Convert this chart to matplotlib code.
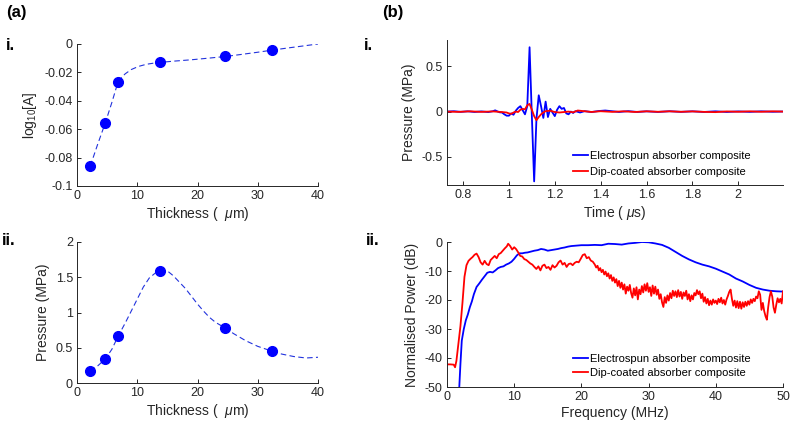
import matplotlib
matplotlib.use("Agg")
import matplotlib.pyplot as plt

plt.rcParams['font.family'] = ['Liberation Sans', 'DejaVu Sans']
plt.rcParams['mathtext.fontset'] = 'custom'
plt.rcParams['mathtext.rm'] = 'Liberation Sans'
plt.rcParams['mathtext.it'] = 'Liberation Sans:italic'

# ---------------- data ----------------
thickness = [2.2, 4.7, 6.8, 13.7, 24.6, 32.4]
log_abs = [-0.086, -0.0555, -0.0268, -0.013, -0.0088, -0.0043]
pressure_pts = [0.17, 0.34, 0.66, 1.59, 0.78, 0.45]

fit_a_x = [2.2, 3.4, 4.7, 5.8, 6.8, 7.4, 8.0, 9.0, 10.2, 11.5, 12.7, 13.7, 16, 19, 22,
           24.6, 27, 30, 32.4, 35, 37.5, 40]
fit_a_y = [-0.086, -0.071, -0.0555, -0.041, -0.0268, -0.0235, -0.021, -0.018, -0.0158,
           -0.0143, -0.0135, -0.013, -0.0121, -0.0111, -0.0099, -0.0088, -0.0075,
           -0.0058, -0.0043, -0.0028, -0.0014, 0.0]

fit_p_x = [2.2, 3.4, 4.7, 5.8, 6.8, 8.0, 9.0, 10.0, 11.0, 12.0, 13.0, 14.0, 15.0, 16.0,
           17.0, 18.0, 19.0, 20.0, 21.0, 22.0, 23.0, 24.6, 26, 28, 30, 32.4, 34, 36, 38, 40]
fit_p_y = [0.17, 0.24, 0.34, 0.48, 0.66, 0.85, 1.02, 1.19, 1.36, 1.49, 1.56, 1.595, 1.59,
           1.52, 1.43, 1.34, 1.23, 1.12, 1.02, 0.93, 0.86, 0.78, 0.70, 0.60, 0.52, 0.45,
           0.41, 0.375, 0.355, 0.365]

t_blue = [0.73, 0.76, 0.79, 0.82, 0.85, 0.88, 0.91, 0.93, 0.94, 0.95, 0.96, 0.97, 0.98,
          0.99, 1.00, 1.01, 1.02, 1.03, 1.04, 1.05, 1.06, 1.07, 1.08, 1.09, 1.10, 1.11,
          1.12, 1.13, 1.14, 1.15, 1.16, 1.17, 1.18, 1.19, 1.20, 1.21, 1.22, 1.23, 1.24,
          1.25, 1.26, 1.27, 1.28, 1.29, 1.31, 1.33, 1.36, 1.39, 1.42, 1.45, 1.48, 1.52,
          1.56, 1.60, 1.65, 1.70, 1.75, 1.80, 1.85, 1.90, 1.95, 2.00, 2.05, 2.10, 2.15,
          2.195]
p_blue = [0.0, 0.004, -0.003, 0.003, -0.004, 0.002, -0.005, 0.004, 0.014, 0.002, -0.008,
          -0.01, -0.03, -0.045, -0.045, -0.02, -0.035, 0.01, 0.04, 0.06, 0.015, -0.03,
          0.06, 0.71, -0.05, -0.77, -0.08, 0.18, 0.06, -0.07, 0.11, -0.06, 0.03, -0.01,
          -0.05, 0.02, 0.06, 0.03, 0.04, -0.02, -0.03, 0.0, -0.015, 0.005, -0.01, 0.005,
          -0.005, 0.006, 0.012, 0.004, -0.004, 0.005, -0.004, 0.003, -0.004, 0.004,
          -0.003, 0.003, -0.004, 0.003, -0.004, 0.002, -0.003, 0.003, -0.002, 0.001]

t_red = [0.73, 0.78, 0.83, 0.88, 0.93, 0.97, 0.99, 1.00, 1.01, 1.02, 1.03, 1.04, 1.05,
         1.06, 1.07, 1.08, 1.09, 1.10, 1.11, 1.12, 1.13, 1.14, 1.15, 1.16, 1.18, 1.20,
         1.22, 1.24, 1.26, 1.28, 1.30, 1.33, 1.36, 1.40, 1.45, 1.50, 1.55, 1.60, 1.65,
         1.70, 1.75, 1.80, 1.85, 1.90, 1.95, 2.00, 2.05, 2.10, 2.15, 2.195]
p_red = [0.0, -0.003, 0.003, -0.003, 0.002, -0.005, -0.01, -0.02, -0.025, -0.01, 0.0,
         -0.005, 0.02, 0.03, 0.025, 0.07, 0.085, 0.02, -0.05, -0.095, -0.06, -0.03,
         -0.01, 0.005, 0.01, -0.005, -0.01, -0.005, 0.0, -0.008, 0.012, 0.004, -0.004,
         0.004, -0.003, 0.003, -0.004, 0.003, -0.002, 0.003, -0.002, 0.002, -0.003,
         -0.006, 0.002, -0.002, 0.003, -0.002, 0.003, 0.0]

f_blue = [1.7, 2.0, 2.2, 2.5, 2.8, 3.1, 3.4, 3.7, 4.0, 4.4, 4.8, 5.2, 5.6, 6.0, 6.4, 6.8,
          7.2, 7.6, 8.0, 8.4, 8.8, 9.2, 9.6, 10.0, 10.4, 10.8, 11.2, 11.6, 12.0, 12.5,
          13.0, 13.5, 14.0, 14.5, 15.0, 15.5, 16.0, 16.5, 17.0, 17.5, 18.0, 18.5, 19.0,
          19.5, 20.0, 21.0, 22.0, 23.0, 24.0, 25.0, 26.0, 27.0, 28.0, 29.0, 30.0, 31.0,
          32.0, 33.0, 34.0, 35.0, 36.0, 37.0, 38.0, 39.0, 40.0, 41.0, 42.0, 43.0, 44.0,
          45.0, 46.0, 47.0, 48.0, 49.0, 50.0]
db_blue = [-56, -42, -34, -30, -27, -25, -22.5, -20.5, -18, -15.5, -14.3, -13, -11.8,
           -10.6, -10.3, -10.5, -9.8, -9.0, -8.6, -8.4, -7.8, -7.4, -6.8, -5.8, -4.6,
           -3.9, -3.9, -3.7, -3.6, -3.3, -3.0, -2.8, -2.4, -2.6, -3.0, -2.8, -2.6, -2.4,
           -2.1, -1.9, -1.6, -1.4, -1.3, -1.2, -1.1, -1.1, -1.0, -1.1, -0.6, -0.7, -0.9,
           -0.5, -0.3, 0.0, -0.1, -0.5, -1.0, -2.0, -3.4, -4.8, -6.0, -7.0, -7.8, -8.4,
           -9.2, -10.2, -11.2, -12.6, -13.6, -14.8, -15.8, -16.4, -16.8, -17.0, -17.1]

f_red = [0, 0.5, 1.0, 1.2, 1.4, 1.7, 2.0, 2.3, 2.6, 2.9, 3.2, 3.5, 3.8, 4.1, 4.4, 4.7,
         5.0, 5.3, 5.6, 5.9, 6.2, 6.5, 6.8, 7.1, 7.4, 7.7, 8.0, 8.3, 8.6, 8.9, 9.1, 9.4,
         9.7, 10.0, 10.3, 10.6, 10.9, 11.2, 11.5, 11.8, 12.1, 12.4, 12.7, 13.0, 13.3,
         13.6, 13.9, 14.2, 14.5, 14.8, 15.1, 15.4, 15.7, 16.0, 16.3, 16.6, 16.9, 17.2,
         17.5, 17.8, 18.1, 18.4, 18.7, 19.0, 19.3, 19.6, 19.9, 20.2, 20.5, 20.8, 21.1,
         21.4, 21.7,
         22.0, 22.2, 22.4, 22.6, 22.8, 23.0, 23.2, 23.4, 23.6, 23.8, 24.0, 24.2, 24.4,
         24.6, 24.8, 25.0, 25.2, 25.4, 25.6, 25.8, 26.0, 26.2, 26.4, 26.6, 26.8, 27.0,
         27.2, 27.4, 27.6, 27.8, 28.0, 28.2, 28.4, 28.6, 28.8, 29.0, 29.2, 29.4, 29.6,
         29.8, 30.0, 30.2, 30.4, 30.6, 30.8, 31.0, 31.2, 31.4, 31.6, 31.8, 32.0, 32.2,
         32.4, 32.6, 32.8, 33.0, 33.2, 33.4, 33.6, 33.8, 34.0, 34.2, 34.4, 34.6, 34.8,
         35.0, 35.2, 35.4, 35.6, 35.8, 36.0, 36.2, 36.4, 36.6, 36.8, 37.0, 37.2, 37.4,
         37.6, 37.8, 38.0, 38.2, 38.4, 38.6, 38.8, 39.0, 39.2, 39.4, 39.6, 39.8, 40.0,
         40.2, 40.4, 40.6, 40.8, 41.0, 41.2, 41.4, 41.6, 41.8, 42.0, 42.2, 42.4, 42.6,
         42.8, 43.0, 43.2, 43.4, 43.6, 43.8, 44.0, 44.2, 44.4, 44.6, 44.8, 45.0, 45.2,
         45.4, 45.6, 45.8, 46.0, 46.2, 46.4, 46.6, 46.8, 47.0, 47.2, 47.4, 47.6, 47.8,
         48.0, 48.2, 48.4, 48.6, 48.8, 49.0, 49.2, 49.4, 49.6, 49.8, 50.0]
db_red = [-42.2, -42.2, -42.3, -43.2, -41, -35, -29, -21, -12, -8, -6.5, -5.8, -5.2,
          -4.4, -4.0, -5.2, -7.0, -7.8, -6.5, -7.6, -8.0, -6.2, -5.5, -4.8, -5.6, -4.2,
          -3.8, -3.0, -2.2, -1.5, -0.6, -1.4, -2.6, -1.8, -2.5, -3.6, -4.8, -5.0, -5.9,
          -6.2, -6.8, -7.4, -7.8, -8.6, -9.3, -8.4, -9.8, -8.2, -7.8, -9.0, -8.6, -9.6,
          -8.0, -8.8, -8.2, -7.0, -6.4, -7.8, -7.2, -8.6, -7.6, -7.4, -8.0, -7.2, -6.8,
          -7.0, -5.8, -4.5, -4.2, -5.6, -5.2, -6.4, -6.8,
          -7.8, -8.8, -8.2, -9.8, -9.0, -10.4, -9.6, -11.2, -10.2, -11.8, -10.8, -12.6,
          -11.4, -13.4, -12.2, -14.0, -12.8, -15.2, -13.4, -15.8, -14.0, -16.4, -14.6,
          -17.8, -15.4, -16.8, -14.8, -17.6, -19.2, -16.0, -18.4, -15.6, -19.8, -16.4,
          -18.0, -15.2, -17.4, -14.6, -16.8, -14.2, -17.2, -15.6, -18.6, -15.0, -17.8,
          -15.4, -18.2, -16.4, -19.6, -18.0, -20.8, -22.4, -19.0, -21.0, -18.4, -20.2,
          -17.6, -19.4, -16.8, -18.6, -17.0, -19.0, -16.6, -18.8, -17.2, -19.6, -17.4,
          -18.6, -16.8, -19.8, -18.0, -20.4, -18.4, -19.8, -17.6, -18.4, -16.6, -18.0,
          -17.0, -19.4, -17.8, -20.6, -19.0, -21.2, -19.6, -21.8, -20.2, -21.6, -19.8,
          -21.0, -20.2, -21.4, -19.6, -20.8, -19.2, -21.2, -20.0, -21.6, -19.8, -18.6,
          -17.2, -16.4, -19.6, -22.0, -20.2, -22.6, -20.4, -22.8, -20.6, -23.0, -20.8,
          -22.4, -20.6, -22.0, -20.4, -21.6, -19.8, -21.0, -19.6, -20.4, -18.8, -19.4,
          -17.0, -18.2, -23.4, -21.0, -23.8, -25.6, -26.8, -22.4, -19.0, -17.0, -18.8,
          -22.6, -24.4, -21.6, -19.4, -20.8, -19.6, -21.2, -17.0]

legend_labels = ["Electrospun absorber composite", "Dip-coated absorber composite"]

# ---------------- figure ----------------
W, H = 792, 425
fig = plt.figure(figsize=(W / 100, H / 100), dpi=100)
AX_COL = '#262626'
TICK_FS = 9
LAB_FS = 10


def add_ax(l, t, r, b):
    ax = fig.add_axes([l / W, 1 - b / H, (r - l) / W, (b - t) / H])
    for s in ('top', 'right'):
        ax.spines[s].set_visible(False)
    for s in ('left', 'bottom'):
        ax.spines[s].set_color(AX_COL)
        ax.spines[s].set_linewidth(0.7)
    ax.tick_params(direction='in', length=3, width=0.7, colors=AX_COL,
                   labelsize=TICK_FS, pad=3)
    return ax


# (a) i.
ax1 = add_ax(77, 44, 318, 186)
ax1.plot(fit_a_x, fit_a_y, color='#2233dd', lw=0.8, ls=(0, (5, 3)))
ax1.plot(thickness, log_abs, 'o', color='blue', ms=7, mec='blue')
ax1.set_xlim(0, 40)
ax1.set_ylim(-0.1, 0)
ax1.set_xticks([0, 10, 20, 30, 40])
ax1.set_yticks([-0.1, -0.08, -0.06, -0.04, -0.02, 0])
ax1.set_yticklabels(['-0.1', '-0.08', '-0.06', '-0.04', '-0.02', '0'])
ax1.set_xlabel(r'Thickness (  $\mu$m)', fontsize=LAB_FS, color=AX_COL, labelpad=2)
ax1.set_ylabel(r'log$_{10}$[A]', fontsize=LAB_FS, color=AX_COL, labelpad=4)

# (a) ii.
ax2 = add_ax(77, 242, 318, 383)
ax2.plot(fit_p_x, fit_p_y, color='#2233dd', lw=0.8, ls=(0, (5, 3)))
ax2.plot(thickness, pressure_pts, 'o', color='blue', ms=7, mec='blue')
ax2.set_xlim(0, 40)
ax2.set_ylim(0, 2)
ax2.set_xticks([0, 10, 20, 30, 40])
ax2.set_yticks([0, 0.5, 1, 1.5, 2])
ax2.set_yticklabels(['0', '0.5', '1', '1.5', '2'])
ax2.set_xlabel(r'Thickness (  $\mu$m)', fontsize=LAB_FS, color=AX_COL, labelpad=2)
ax2.set_ylabel('Pressure (MPa)', fontsize=LAB_FS, color=AX_COL, labelpad=4)

# (b) i.
ax3 = add_ax(447, 40, 783, 185)
ax3.plot(t_blue, p_blue, color='blue', lw=1.3, label=legend_labels[0])
ax3.plot(t_red, p_red, color='red', lw=1.3, label=legend_labels[1])
ax3.set_xlim(0.73, 2.195)
ax3.set_ylim(-0.81, 0.79)
ax3.set_xticks([0.8, 1, 1.2, 1.4, 1.6, 1.8, 2])
ax3.set_xticklabels(['0.8', '1', '1.2', '1.4', '1.6', '1.8', '2'])
ax3.set_yticks([-0.5, 0, 0.5])
ax3.set_yticklabels(['-0.5', '0', '0.5'])
ax3.set_xlabel(r'Time ( $\mu$s)', fontsize=LAB_FS, color=AX_COL, labelpad=2)
ax3.set_ylabel('Pressure (MPa)', fontsize=LAB_FS, color=AX_COL, labelpad=4)
ax3.legend(loc='center left', bbox_to_anchor=(573 / W, 1 - 164 / H),
           bbox_transform=fig.transFigure, frameon=False, fontsize=8,
           handlelength=1.35, handletextpad=0.2, borderpad=0, borderaxespad=0,
           labelspacing=0.5)

# (b) ii.
ax4 = add_ax(447, 242, 783, 387)
ax4.plot(f_blue, db_blue, color='blue', lw=1.3, label=legend_labels[0])
ax4.plot(f_red, db_red, color='red', lw=1.3, label=legend_labels[1])
ax4.set_xlim(0, 50)
ax4.set_ylim(-50, 0)
ax4.set_xticks([0, 10, 20, 30, 40, 50])
ax4.set_yticks([-50, -40, -30, -20, -10, 0])
ax4.set_yticklabels(['-50', '-40', '-30', '-20', '-10', '0'])
ax4.set_xlabel('Frequency (MHz)', fontsize=LAB_FS, color=AX_COL, labelpad=2)
ax4.set_ylabel('Normalised Power (dB)', fontsize=LAB_FS, color=AX_COL, labelpad=4)
ax4.legend(loc='center left', bbox_to_anchor=(573 / W, 1 - 366 / H),
           bbox_transform=fig.transFigure, frameon=False, fontsize=8,
           handlelength=1.35, handletextpad=0.2, borderpad=0, borderaxespad=0,
           labelspacing=0.3)

# panel labels
def ftext(x, y, s):
    fig.text(x / W, 1 - y / H, s, fontsize=12, fontweight='bold', va='center',
             ha='left', color='black')

ftext(6, 12.5, '(a)')
ftext(382, 12.5, '(b)')
ftext(6, 46, 'i.')
ftext(2, 241, 'ii.')
ftext(364, 46, 'i.')
ftext(366, 241, 'ii.')

fig.savefig('out.png', dpi=100)
